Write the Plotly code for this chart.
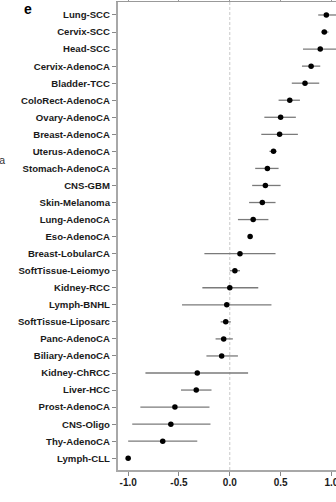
import plotly.graph_objects as go

# Tumour types, ordered top to bottom
tumour_types = [
    "Lung-SCC", "Cervix-SCC", "Head-SCC", "Cervix-AdenoCA", "Bladder-TCC",
    "ColoRect-AdenoCA", "Ovary-AdenoCA", "Breast-AdenoCA", "Uterus-AdenoCA",
    "Stomach-AdenoCA", "CNS-GBM", "Skin-Melanoma", "Lung-AdenoCA", "Eso-AdenoCA",
    "Breast-LobularCA", "SoftTissue-Leiomyo", "Kidney-RCC", "Lymph-BNHL",
    "SoftTissue-Liposarc", "Panc-AdenoCA", "Biliary-AdenoCA", "Kidney-ChRCC",
    "Liver-HCC", "Prost-AdenoCA", "CNS-Oligo", "Thy-AdenoCA", "Lymph-CLL",
]

# Scaled median hypoxia score (point) with lower / upper interval bounds
score = [0.95, 0.93, 0.89, 0.80, 0.74, 0.59, 0.50, 0.49, 0.43, 0.37, 0.35, 0.32,
         0.23, 0.20, 0.10, 0.05, 0.00, -0.03, -0.04, -0.06, -0.08, -0.32, -0.33,
         -0.54, -0.58, -0.66, -1.00]
lower = [0.87, 0.90, 0.72, 0.71, 0.61, 0.48, 0.34, 0.31, 0.39, 0.25, 0.22, 0.19,
         0.08, 0.20, -0.25, 0.00, -0.27, -0.47, -0.09, -0.14, -0.23, -0.83, -0.48,
         -0.88, -0.96, -1.00, -1.00]
upper = [1.10, 0.97, 1.08, 0.89, 0.88, 0.69, 0.65, 0.67, 0.46, 0.48, 0.50, 0.45,
         0.38, 0.20, 0.45, 0.10, 0.28, 0.41, 0.01, 0.03, 0.08, 0.18, -0.18,
         -0.20, -0.19, -0.32, -1.00]

x_ticks = [-1.0, -0.5, 0.0, 0.5, 1.0]
x_tick_labels = ["-1.0", "-0.5", "0.0", "0.5", "1.0"]

rows = list(range(len(tumour_types)))
err_plus = [u - s for u, s in zip(upper, score)]
err_minus = [s - l for s, l in zip(score, lower)]

AXIS_GREY = "#a8a8a8"
LABEL_FONT = dict(family="Liberation Sans, Arial, sans-serif", size=9.6,
                  color="#1a1a1a", weight="bold")
X_LABEL_FONT = dict(family="Liberation Sans, Arial, sans-serif", size=10,
                    color="#1a1a1a", weight="bold")

fig = go.Figure()

fig.add_trace(go.Scatter(
    x=score, y=rows, mode="markers",
    marker=dict(color="black", size=5.5),
    error_x=dict(type="data", symmetric=False, array=err_plus,
                 arrayminus=err_minus, color="#7a7a7a", thickness=1.3, width=0),
    hoverinfo="skip", showlegend=False,
))

# invisible anchor so the mirrored top axis is drawn
fig.add_trace(go.Scatter(x=[0], y=[0], xaxis="x2", mode="markers",
                         marker=dict(opacity=0), hoverinfo="skip",
                         showlegend=False))

x_range = [-1.1, 1.045]

fig.update_layout(
    width=336, height=502,
    margin=dict(l=118, r=0, t=2, b=32, pad=0, autoexpand=False),
    paper_bgcolor="white", plot_bgcolor="white",
    xaxis=dict(range=x_range, tickvals=x_ticks, ticktext=x_tick_labels,
               showgrid=False, zeroline=False, showline=True,
               linecolor=AXIS_GREY, linewidth=2.2, ticks="outside",
               ticklen=4, tickwidth=1, tickcolor="#888888",
               ticklabelstandoff=-2, ticklabeloverflow="allow",
               automargin=False, tickfont=X_LABEL_FONT),
    xaxis2=dict(range=x_range, overlaying="x", side="top", tickvals=x_ticks,
                showticklabels=False, showgrid=False, zeroline=False,
                showline=True, linecolor="#999999", linewidth=1,
                ticks="outside", ticklen=3, tickwidth=1, tickcolor="#999999",
                automargin=False),
    yaxis=dict(range=[26.69, -0.762], tickvals=rows, ticktext=tumour_types,
               showgrid=False, zeroline=False, showline=True,
               linecolor=AXIS_GREY, linewidth=2.2, ticks="outside",
               ticklen=4, tickwidth=1, tickcolor="#888888",
               automargin=False, tickfont=LABEL_FONT),
    shapes=[dict(type="line", xref="x", yref="paper", x0=0, x1=0, y0=0, y1=1,
                 line=dict(color="#c8c8c8", width=1, dash="3px,2px"),
                 layer="below")],
    annotations=[
        dict(text="e", xref="paper", yref="paper", x=-0.44, y=0.986,
             xanchor="left", yanchor="middle", showarrow=False,
             font=dict(family="Liberation Sans, Arial, sans-serif", size=14,
                       color="black", weight="bold")),
        dict(text="ia", xref="paper", yref="paper", x=-0.507, y=0.662,
             xanchor="right", yanchor="middle", showarrow=False,
             font=dict(family="Liberation Sans, Arial, sans-serif", size=10.5,
                       color="#333333")),
        dict(text="<span style='font-size:14px'>μ</span>scaled median hypoxia score",
             xref="paper", yref="paper", x=0.523, y=-0.062,
             xanchor="center", yanchor="top", showarrow=False,
             font=dict(family="Liberation Sans, Arial, sans-serif", size=10.3,
                       color="#222222")),
    ],
)

fig.write_html("out.html")
